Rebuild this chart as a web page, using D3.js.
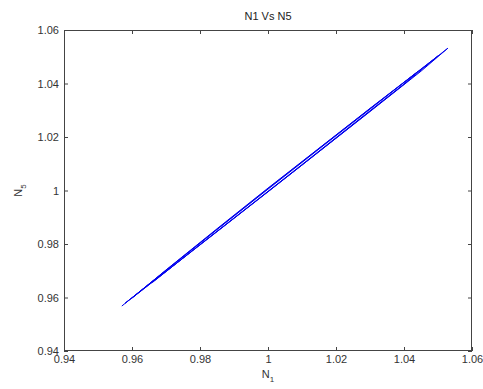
<!DOCTYPE html>
<html><head><meta charset="utf-8">
<script src="https://cdn.jsdelivr.net/npm/d3@7"></script>
<style>body{margin:0;background:#fff}svg{display:block}text{font-family:"Liberation Sans",Arial,sans-serif}</style>
</head><body><svg id="c" width="483" height="389"></svg>
<script>
const titleText = "N1 Vs N5";
const xTicks = [0.94, 0.96, 0.98, 1, 1.02, 1.04, 1.06];
const yTicks = [0.94, 0.96, 0.98, 1, 1.02, 1.04, 1.06];
const n1 = [0.957,0.970,0.985,1.000,1.015,1.030,1.045,1.0529,1.045,1.030,1.015,1.000,0.985,0.970,0.960,0.970,0.985,1.000,1.015,1.030,1.045,1.050,1.040,1.025,1.010,0.995,0.980,0.965,0.958,0.970,0.985,1.000,1.015,1.030,1.044,1.040,1.025,1.010,0.995,0.980,0.966];
const n5 = [0.9568,0.9702,0.9855,1.0007,1.0157,1.0306,1.0453,1.0532,1.0446,1.0295,1.0145,0.9995,0.9846,0.9697,0.9598,0.9703,0.9857,1.0009,1.0158,1.0307,1.0454,1.0503,1.0397,1.0246,1.0095,0.9946,0.9797,0.9648,0.9579,0.9701,0.9854,1.0005,1.0155,1.0304,1.0444,1.0398,1.0248,1.0097,0.9947,0.9798,0.9656];

const svg = d3.select("#c");
const L=64, R=472, T=30, B=351;
const x = d3.scaleLinear().domain([0.94,1.06]).range([L,R]);
const y = d3.scaleLinear().domain([0.94,1.06]).range([B,T]);
const axisCol = "#444";
const fmt = d => d===1 ? "1" : d3.format(".2f")(d);

svg.append("rect").attr("x",L).attr("y",T).attr("width",R-L).attr("height",B-T).attr("fill","#fff");

function styleAxis(g){
  g.select(".domain").remove();
  g.selectAll(".tick line").attr("stroke",axisCol);
  g.selectAll(".tick text").attr("fill","#333").style("font-size","11px");
}
svg.append("g").attr("transform",`translate(0,${B})`)
  .call(d3.axisBottom(x).tickValues(xTicks).tickFormat(fmt).tickSizeInner(-4).tickSizeOuter(0).tickPadding(4))
  .call(styleAxis).selectAll(".tick text").attr("dy","0.71em");
svg.append("g").attr("transform",`translate(0,${T})`)
  .call(d3.axisTop(x).tickValues(xTicks).tickFormat("").tickSizeInner(-4).tickSizeOuter(0)).call(styleAxis);
svg.append("g").attr("transform",`translate(${L},0)`)
  .call(d3.axisLeft(y).tickValues(yTicks).tickFormat(fmt).tickSizeInner(-4).tickSizeOuter(0).tickPadding(5))
  .call(styleAxis);
svg.append("g").attr("transform",`translate(${R},0)`)
  .call(d3.axisRight(y).tickValues(yTicks).tickFormat("").tickSizeInner(-4).tickSizeOuter(0)).call(styleAxis);

svg.append("rect").attr("x",L+0.5).attr("y",T+0.5).attr("width",R-L-1).attr("height",B-T-1)
  .attr("fill","none").attr("stroke",axisCol).attr("stroke-width",1);

const pts = n1.map((v,i)=>[v,n5[i]]);
svg.append("path").datum(pts).attr("fill","none").attr("stroke","#0000ee").attr("stroke-width",1)
  .attr("d", d3.line().x(d=>x(d[0])).y(d=>y(d[1])));

svg.append("text").attr("x",(L+R)/2).attr("y",20).attr("text-anchor","middle")
  .attr("fill","#222").style("font-size","11px").text(titleText);

const xl = svg.append("text").attr("x",(L+R)/2).attr("y",378).attr("text-anchor","middle")
  .attr("fill","#333").style("font-size","11px");
xl.append("tspan").text("N");
xl.append("tspan").attr("dy",4).style("font-size","8px").text("1");

const yl = svg.append("text").attr("transform",`translate(22,${(T+B)/2}) rotate(-90)`).attr("text-anchor","middle")
  .attr("fill","#333").style("font-size","11px");
yl.append("tspan").text("N");
yl.append("tspan").attr("dy",4).style("font-size","8px").text("5");
</script></body></html>
